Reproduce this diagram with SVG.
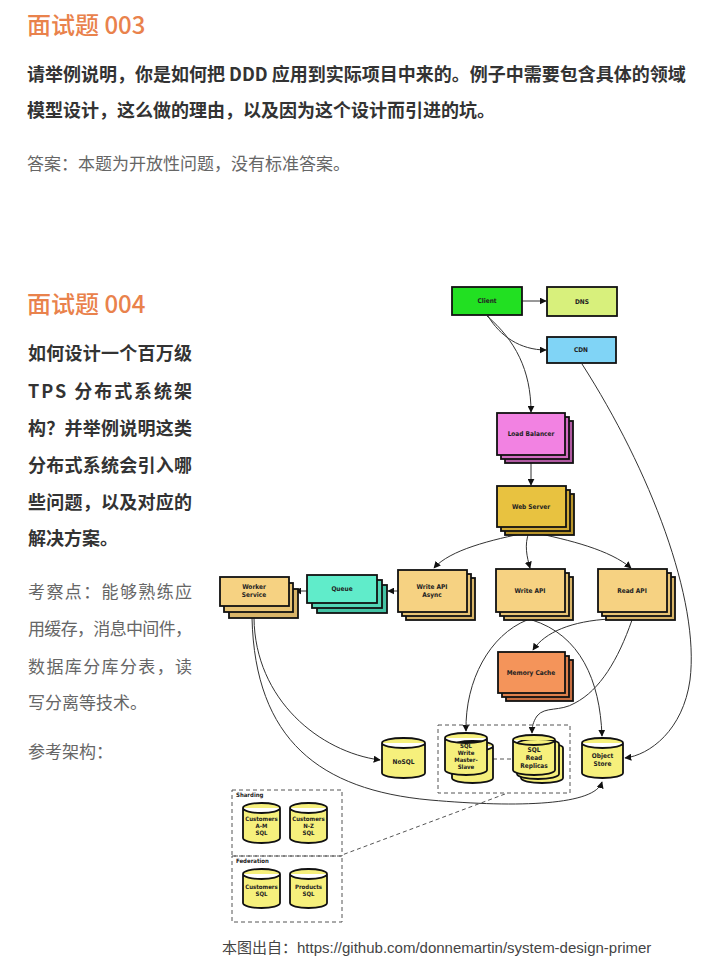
<svg xmlns="http://www.w3.org/2000/svg" width="720" height="979" viewBox="0 0 720 979">
<style>
.title{font-family:"Noto Sans CJK SC","Noto Sans",sans-serif;font-size:24px;fill:#e9824c;font-weight:500}
.bold{font-family:"Noto Sans CJK SC","Noto Sans",sans-serif;font-size:18px;fill:#333;font-weight:bold}
.gray{font-family:"Noto Sans CJK SC","Noto Sans",sans-serif;font-size:17px;fill:#666}
.cap{font-family:"Liberation Sans","Noto Sans CJK SC",sans-serif;font-size:15px;fill:#444}
.lbl{font-family:"DejaVu Sans Condensed","DejaVu Sans",sans-serif;font-stretch:condensed;font-size:6.5px;font-weight:bold;fill:#222;text-anchor:middle}
.sm{font-family:"DejaVu Sans Condensed","DejaVu Sans",sans-serif;font-stretch:condensed;font-size:6px;font-weight:bold;fill:#222}
.box{stroke:#111;stroke-width:1.8}
.cyl{fill:#f6f07c;stroke:#111;stroke-width:1.8}
.ln{fill:none;stroke:#333;stroke-width:1}
.dash{fill:none;stroke:#555;stroke-width:1;stroke-dasharray:4 3}
</style>
<defs>
<marker id="ah" viewBox="0 0 10 10" refX="9" refY="5" markerWidth="7" markerHeight="7" markerUnits="userSpaceOnUse" orient="auto">
<path d="M0,0 L10,5 L0,10 Z" fill="#111"/>
</marker>
</defs>
<rect width="720" height="979" fill="#fff"/>

<g id="text-003">
<text class="title" x="27" y="34">面试题 003</text>
<text class="bold" x="27" y="81">请举例说明，你是如何把 DDD 应用到实际项目中来的。例子中需要包含具体的领域</text>
<text class="bold" x="27" y="117">模型设计，这么做的理由，以及因为这个设计而引进的坑。</text>
<text class="gray" x="27" y="170">答案：本题为开放性问题，没有标准答案。</text>
</g>

<g id="text-004">
<text class="title" x="27" y="313">面试题 004</text>
<text class="bold" x="28" y="360" textLength="164" lengthAdjust="spacing">如何设计一个百万级</text>
<text class="bold" x="28" y="398" textLength="164" lengthAdjust="spacing">TPS 分布式系统架</text>
<text class="bold" x="28" y="435" textLength="164" lengthAdjust="spacing">构？并举例说明这类</text>
<text class="bold" x="28" y="472" textLength="164" lengthAdjust="spacing">分布式系统会引入哪</text>
<text class="bold" x="28" y="509" textLength="164" lengthAdjust="spacing">些问题，以及对应的</text>
<text class="bold" x="28" y="545">解决方案。</text>
<text class="gray" x="28" y="598" textLength="164" lengthAdjust="spacing">考察点：能够熟练应</text>
<text class="gray" x="28" y="635" textLength="164" lengthAdjust="spacing">用缓存，消息中间件，</text>
<text class="gray" x="28" y="673" textLength="164" lengthAdjust="spacing">数据库分库分表，读</text>
<text class="gray" x="28" y="709">写分离等技术。</text>
<text class="gray" x="28" y="758">参考架构：</text>
</g>

<g id="connectors">
<path class="ln" d="M522,301 H546" marker-end="url(#ah)"/>
<path class="ln" d="M488,316 C500,336 520,350 546,350" marker-end="url(#ah)"/>
<path class="ln" d="M487,316 C515,340 531,370 531,412" marker-end="url(#ah)"/>
<path class="ln" d="M531,463 V485" marker-end="url(#ah)"/>
<path class="ln" d="M530,532 C490,540 450,550 434,568" marker-end="url(#ah)"/>
<path class="ln" d="M529,532 C524,545 527,557 530,568" marker-end="url(#ah)"/>
<path class="ln" d="M531,532 C570,540 610,550 631,568" marker-end="url(#ah)"/>
<path class="ln" d="M398,591 H388" marker-end="url(#ah)"/>
<path class="ln" d="M307,591 H295" marker-end="url(#ah)"/>
<path class="ln" d="M254,618 C255,700 320,752 380,760" marker-end="url(#ah)"/>
<path class="ln" d="M252,618 C255,740 320,790 430,800 C520,808 595,805 602,782" marker-end="url(#ah)"/>
<path class="ln" d="M527,620 C490,635 465,680 466,731" marker-end="url(#ah)"/>
<path class="ln" d="M532,620 C580,635 600,680 602,736" marker-end="url(#ah)"/>
<path class="ln" d="M610,619 C572,621 545,632 533,650" marker-end="url(#ah)"/>
<path class="ln" d="M632,620 C618,660 600,690 575,703 C560,712 545,706 537,716 C533,722 532,727 532,733" marker-end="url(#ah)"/>
<path class="ln" d="M582,364 C650,470 700,600 690,680 C683,730 650,755 625,758" marker-end="url(#ah)"/>
<path class="dash" d="M493,759 H513"/>
<path class="dash" d="M505,794 L342,855"/>
</g>

<g id="client">
<rect class="box" x="452" y="287" width="70" height="28" fill="#22e022"/>
<text class="lbl" x="487" y="303">Client</text>
</g>
<g id="dns">
<rect class="box" x="547" y="287" width="70" height="29" fill="#d8f07c"/>
<text class="lbl" x="582" y="304">DNS</text>
</g>
<g id="cdn">
<rect class="box" x="547" y="337" width="69" height="26" fill="#80d4f6"/>
<text class="lbl" x="581" y="352">CDN</text>
</g>

<g id="load-balancer">
<rect class="box" x="505" y="421" width="68" height="42" fill="#b05aa2"/>
<rect class="box" x="501" y="417" width="68" height="42" fill="#d26cc2"/>
<rect class="box" x="497" y="413" width="68" height="42" fill="#f282e2"/>
<text class="lbl" x="531" y="436">Load Balancer</text>
</g>

<g id="web-server">
<rect class="box" x="505" y="494" width="69" height="41" fill="#b8942a"/>
<rect class="box" x="501" y="490" width="69" height="41" fill="#d0aa34"/>
<rect class="box" x="497" y="486" width="69" height="41" fill="#e8c240"/>
<text class="lbl" x="531" y="509">Web Server</text>
</g>

<g id="worker-service">
<rect class="box" x="229" y="589" width="69" height="29" fill="#d8b468"/>
<rect class="box" x="224" y="583" width="69" height="29" fill="#e8c474"/>
<rect class="box" x="220" y="577" width="69" height="29" fill="#f6d282"/>
<text class="lbl" x="254" y="589">Worker</text>
<text class="lbl" x="254" y="597">Service</text>
</g>

<g id="queue">
<rect class="box" x="317" y="585" width="70" height="28" fill="#44c2a4"/>
<rect class="box" x="312" y="580" width="70" height="28" fill="#52d6b6"/>
<rect class="box" x="307" y="575" width="70" height="28" fill="#60ecca"/>
<text class="lbl" x="342" y="591">Queue</text>
</g>

<g id="write-api-async">
<rect class="box" x="406" y="578" width="69" height="42" fill="#d8b468"/>
<rect class="box" x="402" y="574" width="69" height="42" fill="#e8c474"/>
<rect class="box" x="398" y="570" width="69" height="42" fill="#f6d282"/>
<text class="lbl" x="432" y="589">Write API</text>
<text class="lbl" x="432" y="597">Async</text>
</g>

<g id="write-api">
<rect class="box" x="504" y="577" width="69" height="43" fill="#d8b468"/>
<rect class="box" x="500" y="573" width="69" height="43" fill="#e8c474"/>
<rect class="box" x="496" y="569" width="69" height="43" fill="#f6d282"/>
<text class="lbl" x="530" y="593">Write API</text>
</g>

<g id="read-api">
<rect class="box" x="606" y="577" width="69" height="43" fill="#d8b468"/>
<rect class="box" x="602" y="573" width="69" height="43" fill="#e8c474"/>
<rect class="box" x="598" y="569" width="69" height="43" fill="#f6d282"/>
<text class="lbl" x="632" y="593">Read API</text>
</g>

<g id="memory-cache">
<rect class="box" x="506" y="660" width="67" height="41" fill="#c86e40"/>
<rect class="box" x="502" y="656" width="67" height="41" fill="#de804c"/>
<rect class="box" x="498" y="652" width="67" height="41" fill="#f4945a"/>
<text class="lbl" x="531" y="675">Memory Cache</text>
</g>

<g id="nosql">
<path class="cyl" d="M382,743 A21.5,5 0 0 1 425,743 V773 A21.5,5 0 0 1 382,773 Z M382,743 A21.5,5 0 0 0 425,743"/>
<text class="lbl" x="403.5" y="764">NoSQL</text>
</g>

<g id="sql-box">
<rect class="dash" x="438" y="725" width="132" height="68"/>
</g>

<g id="sql-write">
<path class="cyl" d="M452,746 A20.5,5 0 0 1 493,746 V778 A20.5,5 0 0 1 452,778 Z M452,746 A20.5,5 0 0 0 493,746"/>
<path class="cyl" d="M445,738 A21,5 0 0 1 487,738 V770 A21,5 0 0 1 445,770 Z M445,738 A21,5 0 0 0 487,738"/>
<text class="sm" text-anchor="middle" x="466" y="748">SQL</text>
<text class="sm" text-anchor="middle" x="466" y="755">Write</text>
<text class="sm" text-anchor="middle" x="466" y="762">Master-</text>
<text class="sm" text-anchor="middle" x="466" y="769">Slave</text>
</g>

<g id="sql-read">
<path class="cyl" d="M521,748 A21,5 0 0 1 563,748 V778 A21,5 0 0 1 521,778 Z"/>
<path class="cyl" d="M517,744 A21,5 0 0 1 559,744 V774 A21,5 0 0 1 517,774 Z"/>
<path class="cyl" d="M513,740 A21,5 0 0 1 555,740 V770 A21,5 0 0 1 513,770 Z M513,740 A21,5 0 0 0 555,740"/>
<text class="lbl" x="534" y="752">SQL</text>
<text class="lbl" x="534" y="760">Read</text>
<text class="lbl" x="534" y="768">Replicas</text>
</g>

<g id="object-store">
<path class="cyl" d="M582,743 A20.5,5 0 0 1 623,743 V773 A20.5,5 0 0 1 582,773 Z M582,743 A20.5,5 0 0 0 623,743"/>
<text class="lbl" x="602.5" y="758">Object</text>
<text class="lbl" x="602.5" y="766">Store</text>
</g>

<g id="sharding">
<rect class="dash" x="232" y="790" width="110" height="66"/>
<text class="sm" x="236" y="797">Sharding</text>
</g>
<g id="customers-am">
<path class="cyl" d="M243,808 A18.5,5 0 0 1 280,808 V838 A18.5,5 0 0 1 243,838 Z M243,808 A18.5,5 0 0 0 280,808"/>
<text class="sm" text-anchor="middle" x="261.5" y="821">Customers</text>
<text class="sm" text-anchor="middle" x="261.5" y="828">A-M</text>
<text class="sm" text-anchor="middle" x="261.5" y="835">SQL</text>
</g>
<g id="customers-nz">
<path class="cyl" d="M290,808 A18.5,5 0 0 1 327,808 V838 A18.5,5 0 0 1 290,838 Z M290,808 A18.5,5 0 0 0 327,808"/>
<text class="sm" text-anchor="middle" x="308.5" y="821">Customers</text>
<text class="sm" text-anchor="middle" x="308.5" y="828">N-Z</text>
<text class="sm" text-anchor="middle" x="308.5" y="835">SQL</text>
</g>

<g id="federation">
<rect class="dash" x="232" y="856" width="110" height="66"/>
<text class="sm" x="236" y="863">Federation</text>
</g>
<g id="customers-sql">
<path class="cyl" d="M243,874 A18.5,5 0 0 1 280,874 V903 A18.5,5 0 0 1 243,903 Z M243,874 A18.5,5 0 0 0 280,874"/>
<text class="sm" text-anchor="middle" x="261.5" y="889">Customers</text>
<text class="sm" text-anchor="middle" x="261.5" y="896">SQL</text>
</g>
<g id="products-sql">
<path class="cyl" d="M290,874 A18.5,5 0 0 1 327,874 V903 A18.5,5 0 0 1 290,903 Z M290,874 A18.5,5 0 0 0 327,874"/>
<text class="sm" text-anchor="middle" x="308.5" y="889">Products</text>
<text class="sm" text-anchor="middle" x="308.5" y="896">SQL</text>
</g>

<g id="caption">
<text class="cap" x="222" y="953">本图出自：https://github.com/donnemartin/system-design-primer</text>
</g>
</svg>
